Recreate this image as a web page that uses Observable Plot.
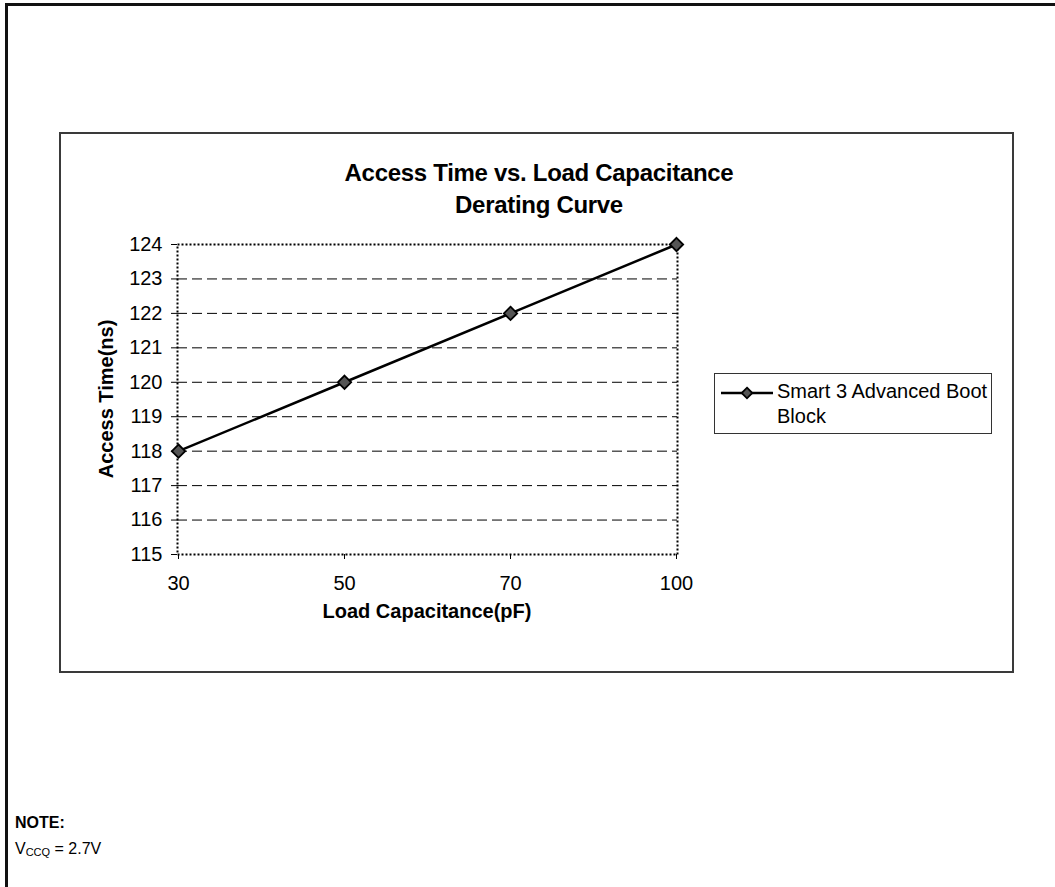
<!DOCTYPE html>
<html>
<head>
<meta charset="utf-8">
<script src="https://cdn.jsdelivr.net/npm/d3@7"></script>
<script src="https://cdn.jsdelivr.net/npm/@observablehq/plot@0.6"></script>
<style>
  html, body { margin: 0; padding: 0; background: #fff; overflow: hidden; }
  #page { position: relative; width: 1055px; height: 887px; overflow: hidden; font-family: "Liberation Sans", Arial, Helvetica, sans-serif; color: #000; }
  .abs { position: absolute; }
  #outer { left: 5px; top: 3px; width: 1200px; height: 1000px; border-top: 3px solid #111; border-left: 3px solid #111; }
  #box { left: 59px; top: 132px; width: 951px; height: 537px; border: 2px solid #3a3a3a; }
  #title { left: 239px; width: 600px; top: 157px; text-align: center; font-weight: bold; font-size: 24px; line-height: 32px; letter-spacing: -0.3px; }
  #ylab { left: 106px; top: 399px; transform: translate(-50%, -50%) rotate(-90deg); font-weight: bold; font-size: 20px; white-space: nowrap; }
  #xlab { left: 427px; top: 600px; transform: translateX(-50%); font-weight: bold; font-size: 20px; white-space: nowrap; }
  #legend { left: 714px; top: 373px; width: 276px; height: 59px; border: 1.5px solid #333; background: #fff; }
  #legend svg { position: absolute; left: 4px; top: 12px; }
  #legtext { position: absolute; left: 62px; top: 5px; font-size: 20px; line-height: 25px; }
  #note { left: 15px; top: 810px; font-size: 16px; line-height: 26px; }
  #note sub { font-size: 11px; vertical-align: -2px; }
  #chart { left: 0; top: 0; }
</style>
</head>
<body>
<div id="page">
  <div id="outer" class="abs"></div>
  <div id="box" class="abs"></div>
  <div id="chart" class="abs"></div>
  <div id="title" class="abs"></div>
  <div id="ylab" class="abs"></div>
  <div id="xlab" class="abs"></div>
  <div id="legend" class="abs"></div>
  <div id="note" class="abs"></div>
</div>
<script>
// ---- data ----
const capacitance = ["30", "50", "70", "100"];          // Load Capacitance (pF)
const accessTime = [118, 120, 122, 124];                // Access Time (ns)
const yTicks = [115, 116, 117, 118, 119, 120, 121, 122, 123, 124];
const seriesName = "Smart 3 Advanced Boot Block";
const titleLines = ["Access Time vs. Load Capacitance", "Derating Curve"];
const xLabel = "Load Capacitance(pF)";
const yLabel = "Access Time(ns)";

const data = capacitance.map((c, i) => ({c, t: accessTime[i]}));
const yMin = d3.min(yTicks), yMax = d3.max(yTicks);

const chart = Plot.plot({
  width: 1055,
  height: 887,
  marginLeft: 177,
  marginRight: 378,
  marginTop: 244,
  marginBottom: 333,
  style: {fontFamily: '"Liberation Sans", Arial, Helvetica, sans-serif', fontSize: "20px", background: "transparent", color: "#000"},
  x: {type: "point", domain: capacitance, padding: 0},
  y: {domain: [yMin, yMax]},
  marks: [
    Plot.gridY(yTicks.filter(v => v !== yMin && v !== yMax), {stroke: "#000", strokeOpacity: 1, strokeWidth: 1, strokeDasharray: "10,5"}),
    Plot.frame({stroke: "#000", strokeWidth: 2, strokeDasharray: "2,2"}),
    Plot.axisY({ticks: yTicks, tickSize: 6, tickPadding: 9, label: null, fontSize: 20, stroke: "#000"}),
    Plot.axisX({tickSize: 5, tickPadding: 16, label: null, fontSize: 20, stroke: "#000"}),
    Plot.line(data, {x: "c", y: "t", stroke: "#000", strokeWidth: 2.5}),
    Plot.dot(data, {x: "c", y: "t", symbol: "diamond2", r: 6, fill: "#555", stroke: "#000", strokeWidth: 1.8})
  ]
});
document.getElementById("chart").appendChild(chart);

document.getElementById("title").innerHTML = titleLines.join("<br>");
document.getElementById("ylab").textContent = yLabel;
document.getElementById("xlab").textContent = xLabel;

// legend
const leg = document.getElementById("legend");
const ns = "http://www.w3.org/2000/svg";
const sw = document.createElementNS(ns, "svg");
sw.setAttribute("width", "56"); sw.setAttribute("height", "16");
const sl = document.createElementNS(ns, "line");
sl.setAttribute("x1", "2"); sl.setAttribute("x2", "54"); sl.setAttribute("y1", "7"); sl.setAttribute("y2", "7");
sl.setAttribute("stroke", "#000"); sl.setAttribute("stroke-width", "2.5");
sw.appendChild(sl);
const sd = document.createElementNS(ns, "path");
sd.setAttribute("d", d3.symbol(d3.symbolDiamond2, 72)());
sd.setAttribute("transform", "translate(28,7)");
sd.setAttribute("fill", "#555"); sd.setAttribute("stroke", "#000"); sd.setAttribute("stroke-width", "1.8");
sw.appendChild(sd);
leg.appendChild(sw);
const lt = document.createElement("div");
lt.id = "legtext";
lt.innerHTML = "Smart 3 Advanced Boot<br>Block";
leg.appendChild(lt);

// note
document.getElementById("note").innerHTML = "<b>NOTE:</b><br>V<sub>CCQ</sub> = 2.7V";
</script>
</body>
</html>
